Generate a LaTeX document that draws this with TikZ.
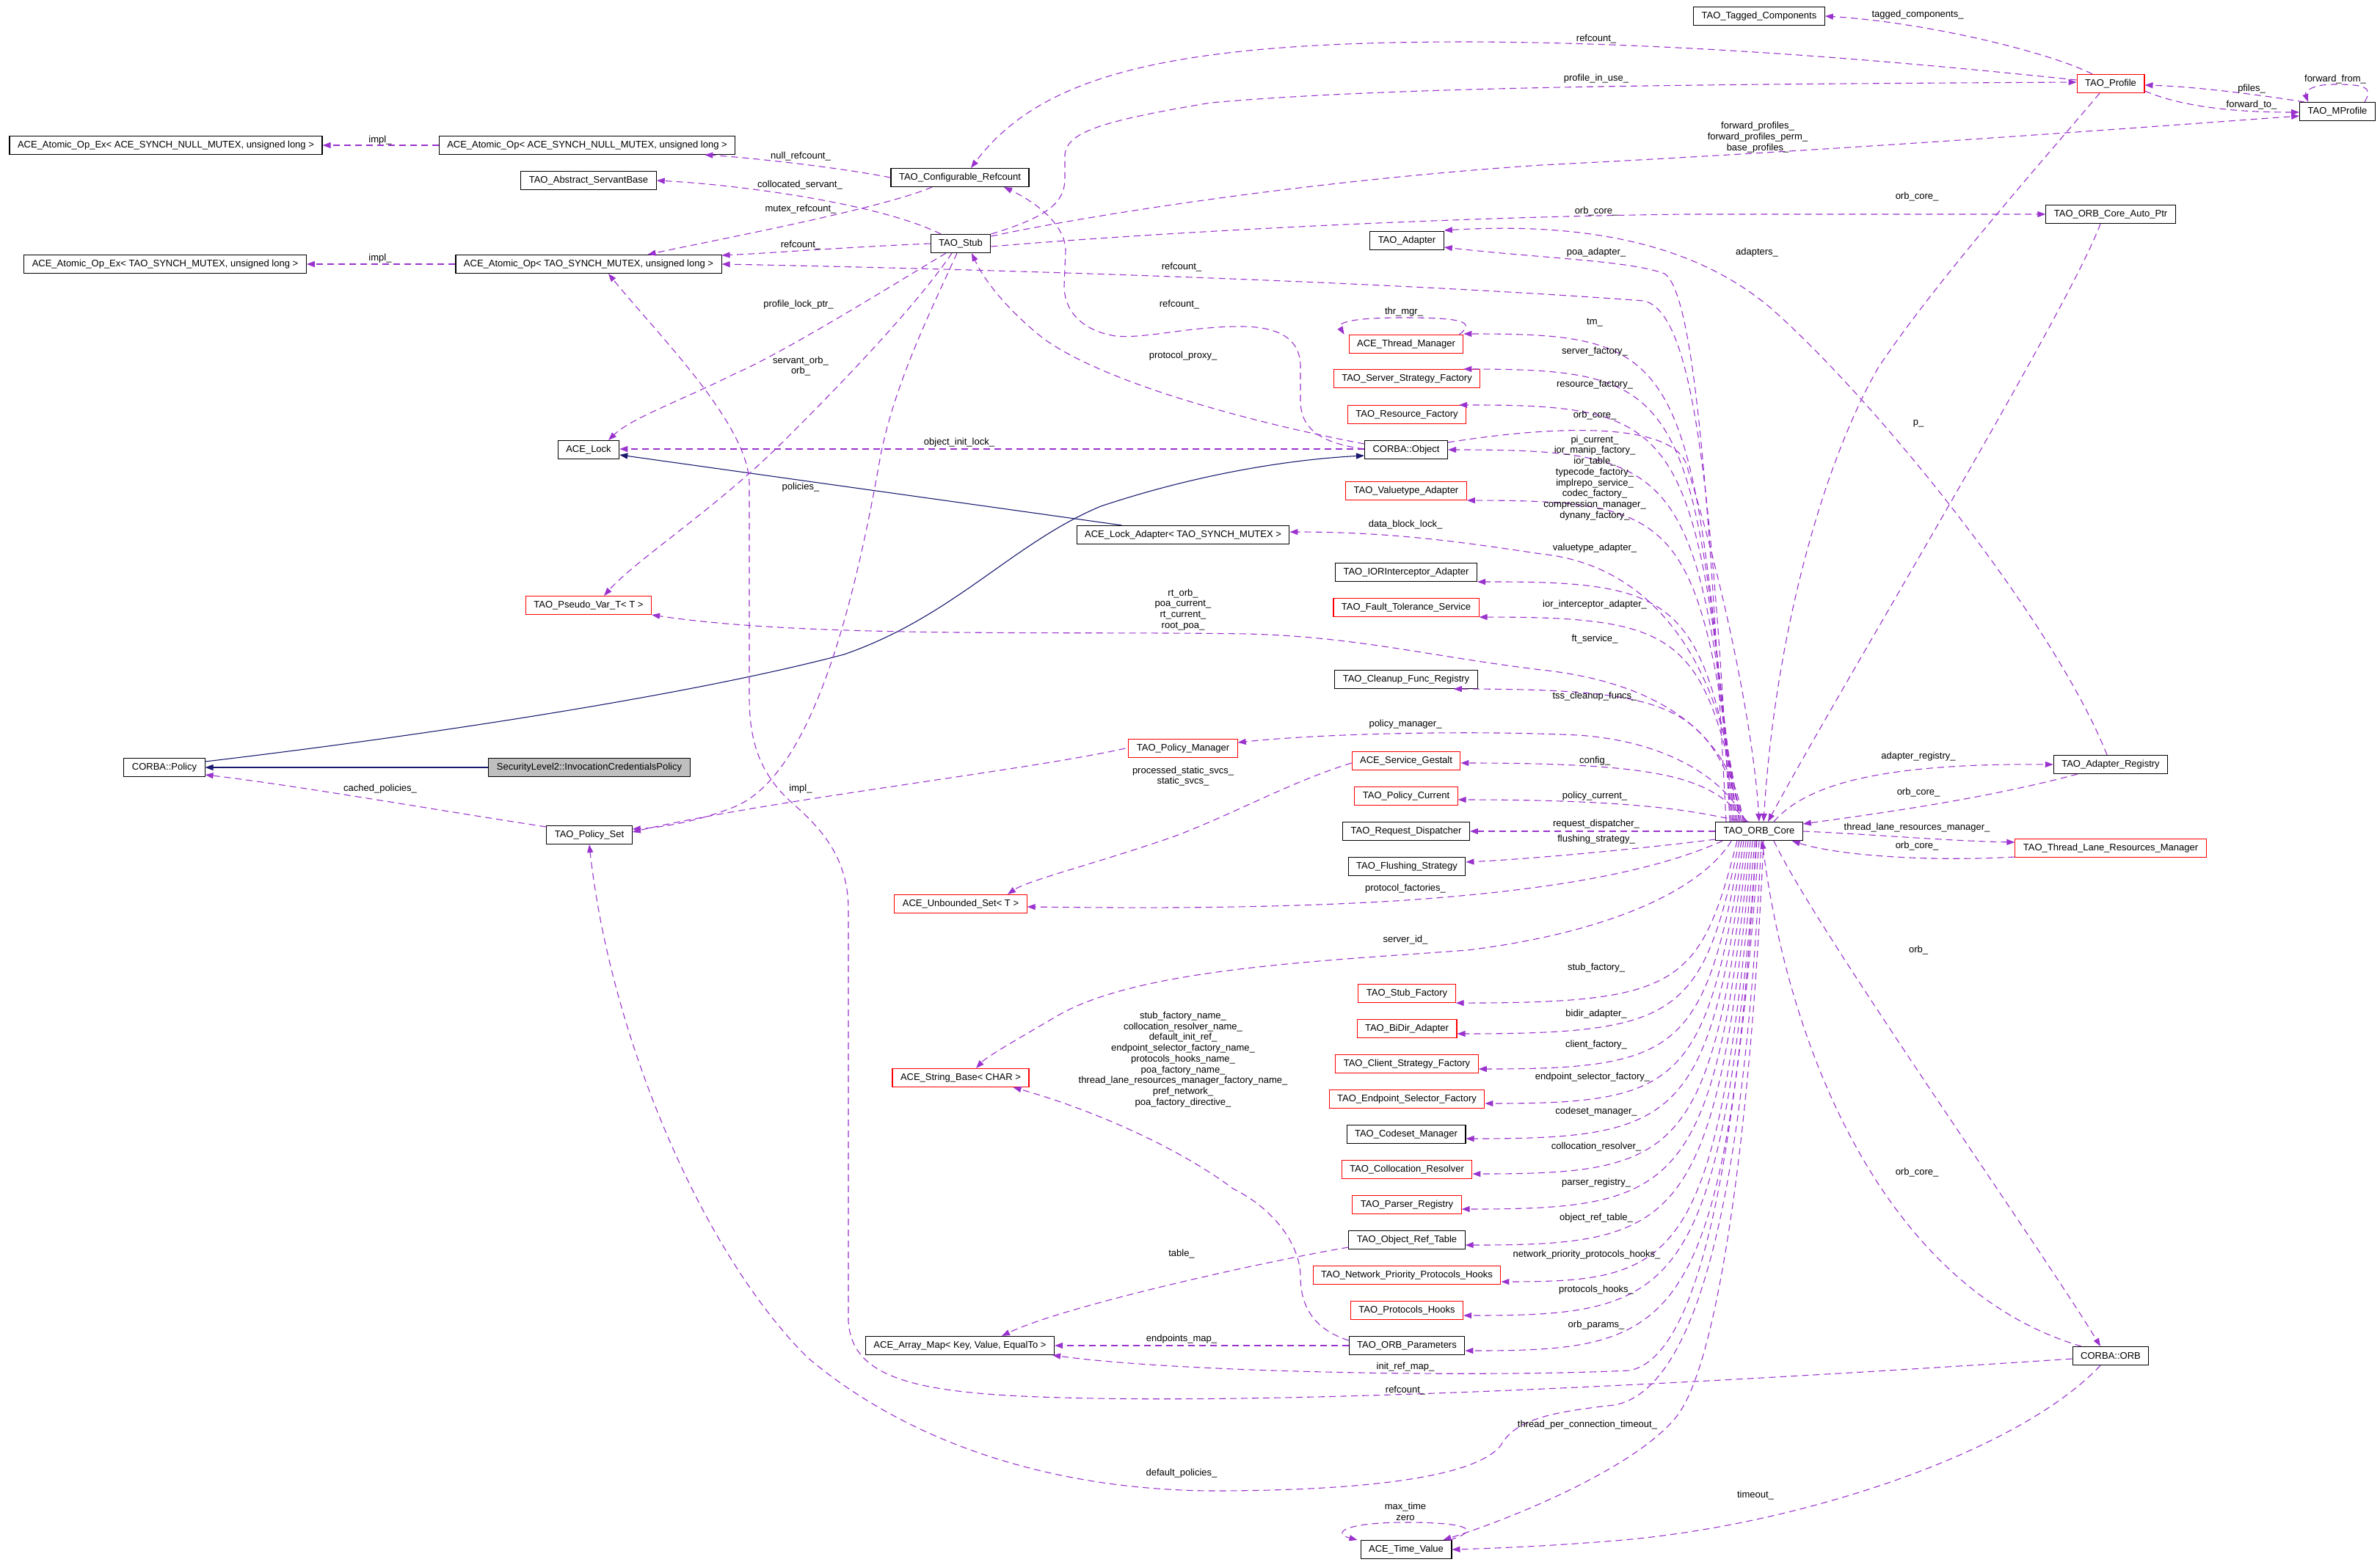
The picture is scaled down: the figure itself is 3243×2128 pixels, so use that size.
\documentclass[tikz,border=0pt]{standalone}
\usepackage{fontspec}
\setmainfont{Liberation Sans}
\usetikzlibrary{arrows.meta}
\definecolor{edgepurple}{HTML}{9A32CD}
\definecolor{navyblue}{HTML}{191970}
\definecolor{boxgray}{HTML}{BFBFBF}
\newcommand{\dxf}{\fontsize{13}{14.75}\selectfont}
\tikzset{
  cls/.style={draw=black, fill=white, line width=1.1pt, minimum height=25pt, inner xsep=11pt, inner ysep=0pt, font=\dxf},
  redcls/.style={cls, draw=red},
  graycls/.style={cls, fill=boxgray},
  mem/.style={draw=edgepurple, line width=1.1pt, dash pattern=on 9pt off 6pt, -{Triangle[length=11pt,width=8pt]}},
  inh/.style={draw=navyblue, line width=1.1pt, -{Triangle[length=11pt,width=8pt]}},
  lbl/.style={font=\dxf, inner sep=0pt, align=center},
}
\newcommand{\CoreUp}[3]{\draw[mem] ([xshift=#1pt]core.north) .. controls ({2347+#1},{#3+25}) and (2290,#3) .. (#2);}
\newcommand{\CoreDown}[3]{\draw[mem] ([xshift=#1pt]core.south) .. controls ({2347+#1},{#3-25}) and (2290,#3) .. (#2);}
\begin{document}
\begin{tikzpicture}[x=1pt,y=-1pt]
\useasboundingbox (0,0) rectangle (3243,2128);

% ---------- nodes ----------
\node[cls] (aopexnull) at (226,198) {ACE\_Atomic\_Op\_Ex< ACE\_SYNCH\_NULL\_MUTEX, unsigned long >};
\node[cls] (aopnull) at (800,198) {ACE\_Atomic\_Op< ACE\_SYNCH\_NULL\_MUTEX, unsigned long >};
\node[cls] (servbase) at (802,246) {TAO\_Abstract\_ServantBase};
\node[cls] (aopextao) at (225,360) {ACE\_Atomic\_Op\_Ex< TAO\_SYNCH\_MUTEX, unsigned long >};
\node[cls] (aoptao) at (802,360) {ACE\_Atomic\_Op< TAO\_SYNCH\_MUTEX, unsigned long >};
\node[cls] (confref) at (1308,242) {TAO\_Configurable\_Refcount};
\node[cls] (stub) at (1309,332) {TAO\_Stub};
\node[cls] (tagged) at (2397,22) {TAO\_Tagged\_Components};
\node[redcls] (profile) at (2876,114) {TAO\_Profile};
\node[cls] (mprofile) at (3185,152) {TAO\_MProfile};
\node[cls] (autoptr) at (2876,292) {TAO\_ORB\_Core\_Auto\_Ptr};
\node[cls] (adapter) at (1917,328) {TAO\_Adapter};
\node[redcls] (thrmgr) at (1916,469) {ACE\_Thread\_Manager};
\node[redcls] (ssf) at (1917,516) {TAO\_Server\_Strategy\_Factory};
\node[redcls] (rf) at (1917,565) {TAO\_Resource\_Factory};
\node[cls] (obj) at (1916,613) {CORBA::Object};
\node[cls] (lock) at (802,613) {ACE\_Lock};
\node[redcls] (vta) at (1916,669) {TAO\_Valuetype\_Adapter};
\node[cls] (lockad) at (1612,729) {ACE\_Lock\_Adapter< TAO\_SYNCH\_MUTEX >};
\node[cls] (iora) at (1916,780) {TAO\_IORInterceptor\_Adapter};
\node[redcls] (fts) at (1916,828) {TAO\_Fault\_Tolerance\_Service};
\node[redcls] (pseudo) at (802,825) {TAO\_Pseudo\_Var\_T< T >};
\node[cls] (cleanup) at (1916,926) {TAO\_Cleanup\_Func\_Registry};
\node[redcls] (polmgr) at (1612,1020) {TAO\_Policy\_Manager};
\node[redcls] (gestalt) at (1916,1037) {ACE\_Service\_Gestalt};
\node[cls] (adreg) at (2876,1042) {TAO\_Adapter\_Registry};
\node[cls] (policy) at (224,1046) {CORBA::Policy};
\node[graycls] (sec) at (803,1046) {SecurityLevel2::InvocationCredentialsPolicy};
\node[redcls] (polcur) at (1916,1085) {TAO\_Policy\_Current};
\node[cls] (polset) at (803,1138) {TAO\_Policy\_Set};
\node[cls] (reqd) at (1916,1133) {TAO\_Request\_Dispatcher};
\node[cls] (core) at (2397,1133) {TAO\_ORB\_Core};
\node[redcls] (tlrm) at (2876,1156) {TAO\_Thread\_Lane\_Resources\_Manager};
\node[cls] (flush) at (1917,1181) {TAO\_Flushing\_Strategy};
\node[redcls] (uset) at (1309,1232) {ACE\_Unbounded\_Set< T >};
\node[redcls] (stubf) at (1917,1354) {TAO\_Stub\_Factory};
\node[redcls] (bidir) at (1917,1402) {TAO\_BiDir\_Adapter};
\node[redcls] (csf) at (1917,1450) {TAO\_Client\_Strategy\_Factory};
\node[redcls] (strbase) at (1309,1469) {ACE\_String\_Base< CHAR >};
\node[redcls] (esf) at (1917,1498) {TAO\_Endpoint\_Selector\_Factory};
\node[cls] (codeset) at (1916,1546) {TAO\_Codeset\_Manager};
\node[redcls] (colloc) at (1917,1594) {TAO\_Collocation\_Resolver};
\node[redcls] (parser) at (1917,1642) {TAO\_Parser\_Registry};
\node[cls] (ort) at (1917,1690) {TAO\_Object\_Ref\_Table};
\node[redcls] (nph) at (1917,1738) {TAO\_Network\_Priority\_Protocols\_Hooks};
\node[redcls] (ph) at (1917,1786) {TAO\_Protocols\_Hooks};
\node[cls] (params) at (1917,1834) {TAO\_ORB\_Parameters};
\node[cls] (amap) at (1308,1834) {ACE\_Array\_Map< Key, Value, EqualTo >};
\node[cls] (orb) at (2876,1848) {CORBA::ORB};
\node[cls] (tv) at (1916,2112) {ACE\_Time\_Value};

% ---------- inheritance ----------
\draw[inh] (sec.west) -- (policy.east);
\draw[inh] ([yshift=8pt]policy.east) .. controls (600,1000) and (950,945) .. (1150,892) .. controls (1300,840) and (1380,740) .. (1500,690) .. controls (1650,640) and (1780,625) .. ([yshift=-8pt]obj.west);
\draw[inh] ([xshift=62pt]lockad.north west) -- ([yshift=-7pt]lock.east);

% ---------- members, upper left ----------
\draw[mem] (aopnull) -- (aopexnull);
\draw[mem] (aoptao) -- (aopextao);
\draw[mem] (confref.west) .. controls (1130,226) and (1010,214) .. ([xshift=-42pt]aopnull.south east);
\draw[mem] ([xshift=-38pt]confref.south) .. controls (1200,285) and (960,330) .. ([xshift=-101pt]aoptao.north east);
\draw[mem] ([xshift=-27pt]stub.north) .. controls (1200,278) and (1010,252) .. (servbase.east);
\draw[mem] (stub.west) .. controls (1150,337) and (1050,345) .. ([yshift=12pt]aoptao.east);
\draw[mem] ([xshift=-40pt]core.north) .. controls (2330,600) and (2300,425) .. (2240,410) .. controls (1900,385) and (1400,368) .. (aoptao.east);
\draw[mem] ([yshift=-4pt]orb.west) .. controls (2400,1880) and (1800,1915) .. (1450,1905) .. controls (1250,1900) and (1160,1880) .. (1156,1800) -- (1156,1240) .. controls (1156,1170) and (1120,1130) .. (1080,1095) .. controls (1035,1055) and (1021,1010) .. (1021,950) -- (1021,660) .. controls (1021,580) and (900,460) .. ([xshift=27pt]aoptao.south);
\draw[mem] ([yshift=5pt]profile.west) .. controls (2600,85) and (2300,58) .. (2000,57) .. controls (1600,57) and (1420,100) .. ([xshift=15pt]confref.north);
\draw[mem] ([yshift=1pt]obj.west) .. controls (1800,604) and (1772,585) .. (1772,546) -- (1772,500) .. controls (1772,460) and (1740,445) .. (1690,445) .. controls (1620,445) and (1560,462) .. (1520,458) .. controls (1470,450) and (1450,420) .. (1450,390) -- (1452,340) .. controls (1450,300) and (1400,270) .. ([xshift=60pt]confref.south);
\draw[mem] ([yshift=8pt]obj.west) .. controls (1700,575) and (1500,520) .. (1420,460) .. controls (1370,420) and (1340,380) .. ([xshift=15pt]stub.south);
\draw[mem] (stub.north east) .. controls (1430,295) and (1451,275) .. (1451,243) -- (1451,210) .. controls (1455,180) and (1500,165) .. (1650,140) .. controls (1900,118) and (2300,115) .. ([yshift=2pt]profile.west);
\draw[mem] ([yshift=10pt]stub.east) .. controls (1500,290) and (1800,245) .. (2100,225) .. controls (2500,205) and (2900,175) .. ([yshift=-6pt]mprofile.west);
\draw[mem] ([yshift=-4pt]stub.east) .. controls (1600,315) and (2000,295) .. (2300,292) -- (autoptr.west);
\draw[mem] ([xshift=-20pt]stub.south) .. controls (1230,380) and (1070,480) .. (1000,510) .. controls (930,545) and (860,570) .. ([xshift=27pt]lock.north);
\draw[mem] ([xshift=-12pt]stub.south) .. controls (1260,400) and (1180,490) .. (1070,599) .. controls (980,690) and (870,760) .. ([xshift=21pt]pseudo.north);
\draw[mem] ([xshift=-5pt]stub.south) .. controls (1270,420) and (1220,520) .. (1200,620) .. controls (1160,850) and (1100,1060) .. (1000,1100) .. controls (950,1120) and (900,1128) .. ([yshift=8pt]polset.east);
\draw[mem] ([yshift=1pt]obj.west) -- ([yshift=1pt]lock.east);
\draw[mem] ([yshift=11pt]polset.west) .. controls (600,1105) and (400,1070) .. ([yshift=-10pt]policy.east);
\draw[mem] ([xshift=-4pt]polmgr.west) .. controls (1400,1050) and (1050,1090) .. ([yshift=4pt]polset.east);

% ---------- profile area ----------
\draw[mem] ([xshift=-25pt]profile.north) .. controls (2790,70) and (2620,30) .. (tagged.east);
\draw[mem] ([xshift=-45pt]mprofile.north) .. controls (3070,128) and (2990,118) .. ([yshift=-2pt]profile.east);
\draw[mem] ([yshift=-10pt]profile.east) .. controls (2960,140) and (3020,153) .. ([yshift=-1pt]mprofile.west);
\draw[mem] ([xshift=37pt]mprofile.north) .. controls (3235,118) and (3220,115) .. (3180,115) .. controls (3150,115) and (3140,125) .. ([xshift=-40pt]mprofile.north);
\draw[mem] ([xshift=-15pt]profile.south) .. controls (2800,200) and (2640,380) .. (2560,500) .. controls (2490,620) and (2420,850) .. ([xshift=6pt]core.north);
\draw[mem] ([xshift=-14pt]autoptr.south) .. controls (2820,420) and (2500,950) .. ([xshift=12pt]core.north);
\draw[mem] ([xshift=-5pt]adreg.north) .. controls (2800,850) and (2560,550) .. (2413,420) .. controls (2330,350) and (2200,300) .. ([yshift=14pt]adapter.east);
\draw[mem] ([xshift=-45pt]core.north) .. controls (2330,700) and (2310,400) .. (2268,373) .. controls (2220,355) and (2100,352) .. ([yshift=-9pt]adapter.east);
\draw[mem] ([yshift=-3pt]obj.north east) .. controls (2150,575) and (2290,580) .. (2300,640) .. controls (2350,800) and (2390,1000) .. (core.north);

% ---------- core to left, above ----------
\CoreUp{-38}{[yshift=14pt]thrmgr.east}{455}
\draw[mem] ([xshift=-6pt]thrmgr.north east) .. controls (2012,438) and (1990,433) .. (1912,433) .. controls (1840,433) and (1822,440) .. ([xshift=-6pt]thrmgr.north west);
\CoreUp{-36}{[xshift=-23pt]ssf.north east}{504}
\CoreUp{-34}{[xshift=-10pt]rf.north east}{552}
\CoreUp{-32}{obj.east}{613}
\CoreUp{-30}{vta.south east}{682}
\draw[mem] ([xshift=-28pt]core.north) .. controls (2350,900) and (2250,770) .. (2100,755) .. controls (2000,740) and (1900,725) .. ([yshift=4pt]lockad.east);
\CoreUp{-26}{iora.south east}{792}
\CoreUp{-24}{fts.south east}{841}
\draw[mem] ([xshift=-22pt]core.north) .. controls (2360,1000) and (2260,930) .. (2100,913) .. controls (1950,895) and (1850,868) .. (1700,864) .. controls (1450,860) and (1100,870) .. (pseudo.south east);
\CoreUp{-20}{[xshift=-33pt]cleanup.south east}{939}
\draw[mem] ([xshift=-18pt]core.north) .. controls (2350,1060) and (2270,1010) .. (2150,1002) .. controls (2000,995) and (1800,1000) .. ([yshift=8pt]polmgr.east);
\CoreUp{-16}{[yshift=-3pt]gestalt.east}{1040}
\CoreUp{-14}{[yshift=-5pt]polcur.east}{1090}
\draw[mem] (core.west) -- (reqd.east);
\draw[mem] ([yshift=2pt]core.south west) .. controls (2250,1155) and (2100,1170) .. ([yshift=6pt]flush.east);

% ---------- core to left, below ----------
\draw[mem] ([xshift=10pt]core.south west) .. controls (2250,1190) and (2100,1215) .. (1900,1228) .. controls (1700,1240) and (1500,1237) .. ([yshift=-4pt]uset.east);
\draw[mem] ([yshift=-3pt]gestalt.west) .. controls (1760,1065) and (1680,1110) .. (1600,1140) .. controls (1500,1175) and (1400,1200) .. ([xshift=64pt]uset.north);
\draw[mem] ([xshift=22pt]core.south west) .. controls (2320,1210) and (2200,1270) .. (2000,1295) .. controls (1800,1310) and (1550,1320) .. (1440,1385) .. controls (1380,1420) and (1345,1440) .. ([xshift=21pt]strbase.north);
\draw[mem] ([yshift=7pt]params.west) .. controls (1800,1815) and (1772,1790) .. (1772,1740) .. controls (1772,1700) and (1740,1650) .. (1680,1620) .. controls (1600,1560) and (1480,1510) .. ([xshift=-22pt]strbase.south east);
\CoreDown{-30}{stubf.south east}{1367}
\CoreDown{-27}{[yshift=-7pt]bidir.east}{1409}
\CoreDown{-24}{[yshift=-7pt]csf.east}{1457}
\CoreDown{-21}{[yshift=-6pt]esf.east}{1504}
\CoreDown{-18}{[yshift=-6pt]codeset.east}{1552}
\CoreDown{-15}{[yshift=-6pt]colloc.east}{1600}
\CoreDown{-12}{[yshift=-6pt]parser.east}{1648}
\CoreDown{-9}{[yshift=-7pt]ort.east}{1697}
\CoreDown{-6}{[yshift=-9pt]nph.east}{1747}
\CoreDown{-3}{[yshift=-7pt]ph.east}{1793}
\CoreDown{0}{[yshift=-7pt]params.east}{1841}
\draw[mem] ([yshift=-10pt]ort.west) .. controls (1720,1720) and (1450,1780) .. ([xshift=57pt]amap.north);
\draw[mem] (params.west) -- (amap.east);
\draw[mem] ([xshift=-4pt]core.south) .. controls (2370,1550) and (2320,1850) .. (2220,1868) .. controls (2000,1878) and (1600,1870) .. ([xshift=-3pt]amap.south east);
\draw[mem] ([xshift=3pt]core.south) .. controls (2380,1550) and (2330,1890) .. (2200,1915) .. controls (2110,1925) and (2065,1935) .. (2045,1970) .. controls (2010,2015) and (1850,2032) .. (1650,2032) .. controls (1420,2030) and (1230,1960) .. (1100,1850) .. controls (950,1700) and (830,1400) .. (polset.south);
\draw[mem] ([xshift=6pt]core.south) .. controls (2385,1550) and (2340,1860) .. (2285,1930) .. controls (2230,2000) and (2060,2070) .. ([xshift=-12pt]tv.north east);
\draw[mem] ([xshift=-3pt]tv.north east) .. controls (2020,2085) and (2000,2075) .. (1916,2075) .. controls (1830,2075) and (1815,2090) .. ([xshift=-4pt]tv.north west);
\draw[mem] ([xshift=-14pt]orb.south) .. controls (2750,1980) and (2450,2080) .. (2200,2100) .. controls (2100,2108) and (2040,2110) .. (tv.east);

% ---------- core to right ----------
\draw[mem] ([xshift=20pt]core.south) .. controls (2470,1260) and (2780,1700) .. ([xshift=-14pt]orb.north);
\draw[mem] ([xshift=-40pt]orb.north) .. controls (2580,1760) and (2440,1450) .. ([xshift=4pt]core.south);
\draw[mem] ([xshift=20pt]core.north) .. controls (2460,1070) and (2560,1040) .. (adreg.west);
\draw[mem] ([xshift=-45pt]adreg.south) .. controls (2700,1090) and (2550,1110) .. ([yshift=10pt]core.east);
\draw[mem] (core.east) .. controls (2550,1137) and (2650,1146) .. ([yshift=8pt]tlrm.west);
\draw[mem] ([yshift=-12pt]tlrm.west) .. controls (2620,1175) and (2500,1165) .. ([xshift=-15pt]core.south east);

% ---------- labels ----------
\node[lbl] (l01) at (518,191) {impl\_};
\node[lbl] (l02) at (518,352) {impl\_};
\node[lbl] (l03) at (1091,213) {null\_refcount\_};
\node[lbl] (l04) at (1090,252) {collocated\_servant\_};
\node[lbl] (l05) at (1091,285) {mutex\_refcount\_};
\node[lbl] (l06) at (1091,334) {refcount\_};
\node[lbl] (l07) at (1610,364) {refcount\_};
\node[lbl] (l08) at (1088,415) {profile\_lock\_ptr\_};
\node[lbl] (l09) at (1607,415) {refcount\_};
\node[lbl] (l10) at (1091,499) {servant\_orb\_\\orb\_};
\node[lbl] (l11) at (1612,485) {protocol\_proxy\_};
\node[lbl] (l12) at (1913,425) {thr\_mgr\_};
\node[lbl] (l13) at (1307,603) {object\_init\_lock\_};
\node[lbl] (l14) at (1091,664) {policies\_};
\node[lbl] (l15) at (1915,715) {data\_block\_lock\_};
\node[lbl] (l16) at (1612,831) {rt\_orb\_\\poa\_current\_\\rt\_current\_\\root\_poa\_};
\node[lbl] (l17) at (1915,987) {policy\_manager\_};
\node[lbl] (l18) at (1612,1058) {processed\_static\_svcs\_\\static\_svcs\_};
\node[lbl] (l19) at (1091,1075) {impl\_};
\node[lbl] (l20) at (518,1075) {cached\_policies\_};
\node[lbl] (l21) at (2613,20) {tagged\_components\_};
\node[lbl] (l22) at (2175,53) {refcount\_};
\node[lbl] (l23) at (2175,107) {profile\_in\_use\_};
\node[lbl] (l24) at (2395,187) {forward\_profiles\_\\forward\_profiles\_perm\_\\base\_profiles\_};
\node[lbl] (l25) at (3068,121) {pfiles\_};
\node[lbl] (l26) at (3068,143) {forward\_to\_};
\node[lbl] (l27) at (3182,108) {forward\_from\_};
\node[lbl] (l28) at (2612,268) {orb\_core\_};
\node[lbl] (l29) at (2175,288) {orb\_core\_};
\node[lbl] (l30) at (2175,344) {poa\_adapter\_};
\node[lbl] (l31) at (2394,344) {adapters\_};
\node[lbl] (l32) at (2173,440) {tm\_};
\node[lbl] (l33) at (2173,479) {server\_factory\_};
\node[lbl] (l34) at (2173,524) {resource\_factory\_};
\node[lbl] (l35) at (2173,566) {orb\_core\_};
\node[lbl] (l36) at (2173,651.5) {pi\_current\_\\ior\_manip\_factory\_\\ior\_table\_\\typecode\_factory\_\\implrepo\_service\_\\codec\_factory\_\\compression\_manager\_\\dynany\_factory\_};
\node[lbl] (l37) at (2173,747) {valuetype\_adapter\_};
\node[lbl] (l38) at (2173,824) {ior\_interceptor\_adapter\_};
\node[lbl] (l39) at (2173,871) {ft\_service\_};
\node[lbl] (l40) at (2173,949) {tss\_cleanup\_funcs\_};
\node[lbl] (l41) at (2173,1037) {config\_};
\node[lbl] (l42) at (2173,1085) {policy\_current\_};
\node[lbl] (l43) at (2614,577) {p\_};
\node[lbl] (l44) at (2614,1031) {adapter\_registry\_};
\node[lbl] (l45) at (2614,1080) {orb\_core\_};
\node[lbl] (l46) at (2175,1123) {request\_dispatcher\_};
\node[lbl] (l47) at (2175,1144) {flushing\_strategy\_};
\node[lbl] (l48) at (2612,1128) {thread\_lane\_resources\_manager\_};
\node[lbl] (l49) at (2612,1153) {orb\_core\_};
\node[lbl] (l50) at (2614,1295) {orb\_};
\node[lbl] (l51) at (2612,1598) {orb\_core\_};
\node[lbl] (l52) at (2175,1319) {stub\_factory\_};
\node[lbl] (l53) at (2175,1382) {bidir\_adapter\_};
\node[lbl] (l54) at (2175,1424) {client\_factory\_};
\node[lbl] (l55) at (2170,1468) {endpoint\_selector\_factory\_};
\node[lbl] (l56) at (2175,1515) {codeset\_manager\_};
\node[lbl] (l57) at (2175,1563) {collocation\_resolver\_};
\node[lbl] (l58) at (2175,1612) {parser\_registry\_};
\node[lbl] (l59) at (2175,1660) {object\_ref\_table\_};
\node[lbl] (l60) at (2162,1710) {network\_priority\_protocols\_hooks\_};
\node[lbl] (l61) at (2175,1758) {protocols\_hooks\_};
\node[lbl] (l62) at (2175,1806) {orb\_params\_};
\node[lbl] (l63) at (2163,1942) {thread\_per\_connection\_timeout\_};
\node[lbl] (l64) at (2392,2038) {timeout\_};
\node[lbl] (l65) at (1915,1211) {protocol\_factories\_};
\node[lbl] (l66) at (1915,1281) {server\_id\_};
\node[lbl] (l67) at (1612,1444) {stub\_factory\_name\_\\collocation\_resolver\_name\_\\default\_init\_ref\_\\endpoint\_selector\_factory\_name\_\\protocols\_hooks\_name\_\\poa\_factory\_name\_\\thread\_lane\_resources\_manager\_factory\_name\_\\pref\_network\_\\poa\_factory\_directive\_};
\node[lbl] (l68) at (1610,1709) {table\_};
\node[lbl] (l69) at (1610,1825) {endpoints\_map\_};
\node[lbl] (l70) at (1915,1863) {init\_ref\_map\_};
\node[lbl] (l71) at (1915,1895) {refcount\_};
\node[lbl] (l72) at (1610,2008) {default\_policies\_};
\node[lbl] (l73) at (1915,2060.5) {max\_time\\zero};
\end{tikzpicture}
\end{document}
